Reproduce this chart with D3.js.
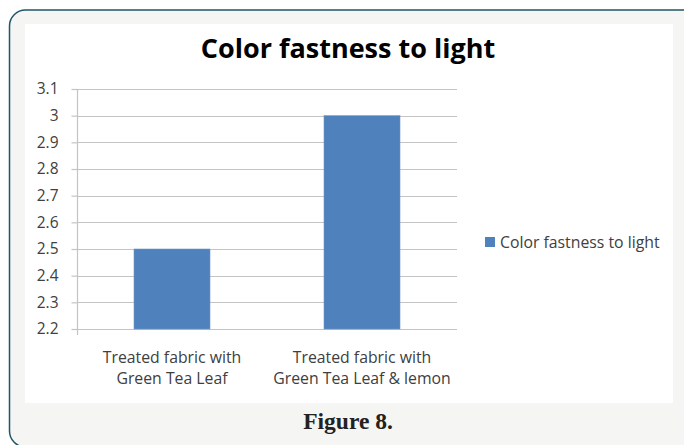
<!DOCTYPE html>
<html>
<head>
<meta charset="utf-8">
<script src="https://cdn.jsdelivr.net/npm/d3@7"></script>
<style>
  html, body { margin: 0; padding: 0; background: #ffffff; }
  svg { display: block; }
</style>
</head>
<body>
<script>
// Chart data
const categories = [
  ["Treated fabric with", "Green Tea Leaf"],
  ["Treated fabric with", "Green Tea Leaf & lemon"]
];
const seriesName = "Color fastness to light";
const values = [2.5, 3.0];
const yTicks = [2.2, 2.3, 2.4, 2.5, 2.6, 2.7, 2.8, 2.9, 3, 3.1];
const titleText = "Color fastness to light";
const captionText = "Figure 8.";

const W = 684, H = 445;
const font = "'Open Sans', Lato, sans-serif";

const svg = d3.select("body").append("svg")
  .attr("width", W).attr("height", H);

// Outer figure frame (runs past the right and bottom edges)
svg.append("rect")
  .attr("x", 9.5).attr("y", 10)
  .attr("width", 690).attr("height", 437)
  .attr("rx", 16).attr("ry", 16)
  .attr("fill", "#f5f5f3")
  .attr("stroke", "#1f5668").attr("stroke-width", 1.5);

// Chart area
svg.append("rect")
  .attr("x", 25).attr("y", 24)
  .attr("width", 648).attr("height", 379)
  .attr("fill", "#ffffff");

// Title
svg.append("text")
  .attr("x", 348).attr("y", 58)
  .attr("text-anchor", "middle")
  .attr("font-family", font).attr("font-weight", "bold")
  .attr("font-size", 27).attr("fill", "#000")
  .text(titleText);

// Plot geometry
const plot = { left: 77, right: 457, top: 89, bottom: 329 };

const x = d3.scaleBand()
  .domain(d3.range(values.length))
  .range([plot.left, plot.right])
  .paddingInner(0.6).paddingOuter(0.3);

const y = d3.scaleLinear()
  .domain([2.2, 3.1])
  .range([plot.bottom, plot.top]);

// Horizontal gridlines
svg.append("g")
  .selectAll("line")
  .data(yTicks)
  .join("line")
  .attr("x1", plot.left).attr("x2", plot.right)
  .attr("y1", d => Math.round(y(d)) + 0.5).attr("y2", d => Math.round(y(d)) + 0.5)
  .attr("stroke", "#c4c4c4").attr("stroke-width", 1.2);

// Y axis
const yAxis = d3.axisLeft(y)
  .tickValues(yTicks)
  .tickSize(6)
  .tickPadding(13)
  .tickFormat(d => String(d));

const gy = svg.append("g")
  .attr("transform", `translate(${plot.left + 0.5},0)`)
  .call(yAxis);
gy.select(".domain").attr("stroke", "#c4c4c4").attr("stroke-width", 1.2)
  .attr("d", `M0,${plot.top}V${plot.bottom + 6}`);
gy.selectAll(".tick line").attr("stroke", "#c4c4c4").attr("stroke-width", 1.2);
gy.selectAll(".tick text")
  .attr("font-family", font).attr("font-size", 15.5)
  .attr("fill", "#404040");

// Bars
svg.append("g")
  .selectAll("rect")
  .data(values)
  .join("rect")
  .attr("x", (d, i) => x(i))
  .attr("y", d => y(d))
  .attr("width", x.bandwidth())
  .attr("height", d => y(2.2) - y(d))
  .attr("fill", "#4f81bd")
  .attr("stroke", "#6f97c9").attr("stroke-width", 0.6);

// Category labels
const cat = svg.append("g")
  .selectAll("text")
  .data(categories)
  .join("text")
  .attr("x", (d, i) => x(i) + x.bandwidth() / 2)
  .attr("y", 363)
  .attr("text-anchor", "middle")
  .attr("font-family", font).attr("font-size", 15.8)
  .attr("fill", "#404040");
cat.selectAll("tspan")
  .data(d => d)
  .join("tspan")
  .attr("x", function () { return d3.select(this.parentNode).attr("x"); })
  .attr("dy", (d, i) => i === 0 ? 0 : 21)
  .text(d => d);

// Legend
const legend = svg.append("g").attr("transform", "translate(485,237)");
legend.append("rect")
  .attr("width", 10).attr("height", 10)
  .attr("fill", "#4f81bd");
legend.append("text")
  .attr("x", 15).attr("y", 10.5)
  .attr("font-family", font).attr("font-size", 15.8)
  .attr("fill", "#404040")
  .text(seriesName);

// Caption
svg.append("text")
  .attr("x", 348).attr("y", 429)
  .attr("text-anchor", "middle")
  .attr("font-family", "'Liberation Serif', 'DejaVu Serif', serif")
  .attr("font-weight", "bold").attr("font-size", 23.5)
  .attr("fill", "#222")
  .text(captionText);
</script>
</body>
</html>
